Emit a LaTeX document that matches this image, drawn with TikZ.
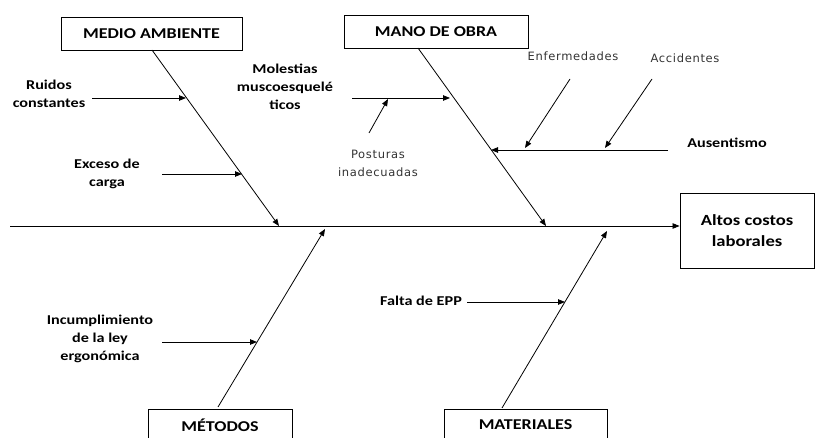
\documentclass[tikz,border=0pt]{standalone}
\usepackage{fontspec}
\setmainfont[FakeStretch=1.2]{Carlito}
\newfontfamily\lightfont[LetterSpace=6]{DejaVu Sans}
\usetikzlibrary{arrows.meta}
\tikzset{
  box/.style={draw, line width=0.9pt, inner sep=0pt, font=\bfseries\fontsize{15}{18}\selectfont},
  lbl/.style={font=\bfseries\fontsize{13.5}{18}\selectfont, align=center, inner sep=0pt},
  light/.style={font=\lightfont\fontsize{11.5}{18}\selectfont, text=black!80, align=center, inner sep=0pt},
  arr/.style={-{Triangle[length=7pt,width=5.5pt]}, line width=0.8pt},
}
\begin{document}
\begin{tikzpicture}[x=1pt,y=-1pt]
\clip (0,0) rectangle (815,438);
\useasboundingbox (0,0) rectangle (815,438);
% boxes
\node[box, minimum width=181pt, minimum height=33pt] (ma) at (151.5,33.5) {MEDIO AMBIENTE};
\node[box, minimum width=184pt, minimum height=33pt] (mo) at (436,31.5) {MANO DE OBRA};
\node[box, minimum width=134pt, minimum height=75pt, align=center, font=\bfseries\fontsize{15.5}{21}\selectfont] (ef) at (747,230.5) {Altos costos\\laborales};
\node[box, minimum width=144pt, minimum height=32pt] (me) at (220,425) {MÉTODOS};
\node[box, minimum width=163pt, minimum height=32pt] (mt) at (525.5,425) {MATERIALES};
% spine
\coordinate (s0) at (10,226);
\draw[arr] (s0) -- (s0 -| ef.west);
% bones
\coordinate (ma0) at (152,50);
\coordinate (maE) at (279,226);
\draw[arr] (ma0) -- (maE);
\coordinate (mo0) at (418,48);
\coordinate (moE) at (546,226);
\draw[arr] (mo0) -- (moE);
\coordinate (me0) at (218,407);
\coordinate (meE) at (325,229);
\draw[arr] (me0) -- (meE);
\coordinate (mt0) at (502,408);
\coordinate (mtE) at (607,231);
\draw[arr] (mt0) -- (mtE);
% labels
\node[lbl] (ruidos) at (49,93.5) {Ruidos\\constantes};
\node[lbl] (exceso) at (107,173.5) {Exceso de\\carga};
\node[lbl] (molest) at (285,87) {Molestias\\muscoesquelé\\ticos};
\node[light] (post) at (378,163) {Posturas\\inadecuadas};
\node[light] (enf) at (573,56) {Enfermedades};
\node[light] (acc) at (685,58) {Accidentes};
\node[lbl] (aus) at (727,143) {Ausentismo};
\node[lbl] (incum) at (100,339) {Incumplimiento\\de la ley\\ergonómica};
\node[lbl] (falta) at (421,301) {Falta de EPP};
% sub-cause arrows
\coordinate (r0) at (92,98);   \coordinate (r1) at (186,98);
\draw[arr] (r0) -- (r1);
\coordinate (e0) at (162,174); \coordinate (e1) at (242,174);
\draw[arr] (e0) -- (e1);
\coordinate (m0) at (352,98);  \coordinate (m1) at (450,98);
\draw[arr] (m0) -- (m1);
\coordinate (p0) at (369,133); \coordinate (p1) at (388,99);
\draw[arr] (p0) -- (p1);
\coordinate (a0) at (668,150); \coordinate (a1) at (491,150);
\draw[arr] (a0) -- (a1);
\coordinate (en0) at (570,79); \coordinate (en1) at (525,148);
\draw[arr] (en0) -- (en1);
\coordinate (ac0) at (652,79); \coordinate (ac1) at (605,148);
\draw[arr] (ac0) -- (ac1);
\coordinate (i0) at (162,342); \coordinate (i1) at (257,342);
\draw[arr] (i0) -- (i1);
\coordinate (f0) at (467,302); \coordinate (f1) at (565,302);
\draw[arr] (f0) -- (f1);
\end{tikzpicture}
\end{document}
